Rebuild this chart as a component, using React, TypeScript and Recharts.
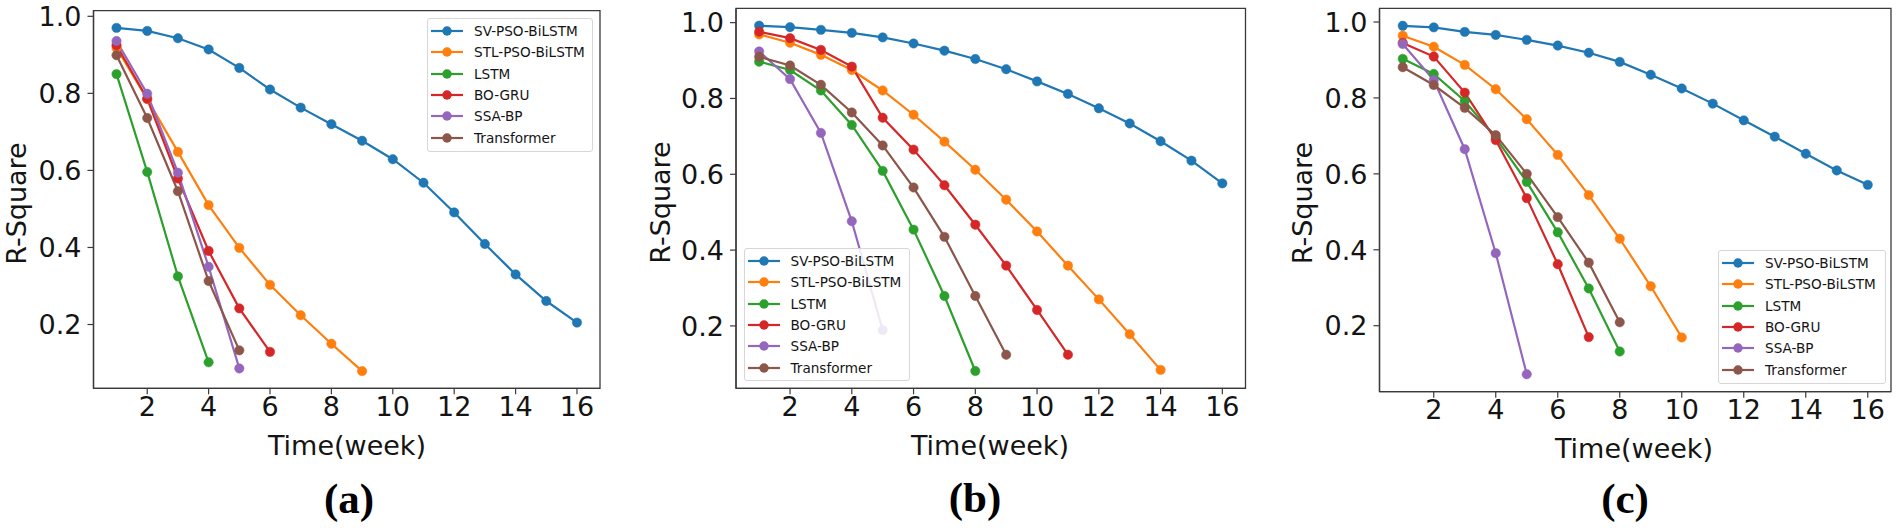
import React from 'react';
import { LineChart, Line, XAxis, YAxis, ReferenceArea } from 'recharts';

// ---------- data ----------
const weeks = [1, 2, 3, 4, 5, 6, 7, 8, 9, 10, 11, 12, 13, 14, 15, 16];
const xTicks = [2, 4, 6, 8, 10, 12, 14, 16];
const yTicks = [0.2, 0.4, 0.6, 0.8, 1.0];
const seriesNames = ['SV-PSO-BiLSTM', 'STL-PSO-BiLSTM', 'LSTM', 'BO-GRU', 'SSA-BP', 'Transformer'];
const seriesKeys = ['sv', 'stl', 'lstm', 'bo', 'ssa', 'trans'];
const seriesColors = ['#1f77b4', '#ff7f0e', '#2ca02c', '#d62728', '#9467bd', '#8c564b'];
const panelLabels = ['(a)', '(b)', '(c)'];

// panel (a)
const svA = [0.970, 0.962, 0.943, 0.914, 0.866, 0.810, 0.763, 0.720, 0.677, 0.629, 0.568, 0.491, 0.409, 0.330, 0.261, 0.205];
const stlA = [0.918, 0.785, 0.648, 0.510, 0.399, 0.303, 0.224, 0.150, 0.079];
const lstmA = [0.850, 0.596, 0.325, 0.102];
const boA = [0.925, 0.786, 0.579, 0.391, 0.242, 0.129];
const ssaA = [0.936, 0.799, 0.594, 0.350, 0.086];
const transA = [0.899, 0.736, 0.546, 0.313, 0.133];

// panel (b)
const svB = [0.992, 0.988, 0.981, 0.973, 0.961, 0.945, 0.926, 0.904, 0.877, 0.845, 0.812, 0.774, 0.734, 0.687, 0.636, 0.576];
const stlB = [0.969, 0.947, 0.915, 0.875, 0.821, 0.757, 0.686, 0.612, 0.533, 0.449, 0.359, 0.270, 0.178, 0.084];
const lstmB = [0.897, 0.875, 0.821, 0.730, 0.609, 0.454, 0.279, 0.081];
const boB = [0.976, 0.959, 0.928, 0.884, 0.749, 0.665, 0.571, 0.467, 0.359, 0.242, 0.124];
const ssaB = [0.924, 0.851, 0.709, 0.476, 0.189];
const transB = [0.910, 0.887, 0.836, 0.763, 0.676, 0.565, 0.435, 0.279, 0.124];

// panel (c)
const svC = [0.990, 0.986, 0.974, 0.966, 0.953, 0.938, 0.919, 0.895, 0.861, 0.825, 0.785, 0.741, 0.698, 0.653, 0.609, 0.571];
const stlC = [0.964, 0.935, 0.887, 0.823, 0.744, 0.650, 0.544, 0.429, 0.304, 0.169];
const lstmC = [0.903, 0.863, 0.792, 0.695, 0.579, 0.446, 0.298, 0.132];
const boC = [0.945, 0.909, 0.814, 0.689, 0.536, 0.362, 0.170];
const ssaC = [0.942, 0.847, 0.665, 0.391, 0.072];
const transC = [0.881, 0.834, 0.774, 0.702, 0.600, 0.486, 0.366, 0.209];

// ---------- helpers ----------
const FONT = '"DejaVu Sans", Verdana, sans-serif';
const TEXT = '#141414';
const SPINE = '#3a3a3a';
const TICK_LEN = 6;

function buildRows(series: number[][]) {
  return weeks.map((w, i) => {
    const row: Record<string, number | null> = { week: w };
    seriesKeys.forEach((k, j) => {
      row[k] = i < series[j].length ? series[j][i] : null;
    });
    return row;
  });
}

function yDomainOf(series: number[][]): [number, number] {
  const all = series.flat();
  const lo = Math.min(...all);
  const hi = Math.max(...all);
  const m = (hi - lo) * 0.05;
  return [lo - m, hi + m];
}

const xDomain: [number, number] = [weeks[0] - 0.75, weeks[weeks.length - 1] + 0.75];

const XTick = (props: any) => {
  const { x, y, payload } = props;
  return (
    <text x={x} y={y - TICK_LEN + 27.5} textAnchor="middle" fontFamily={FONT} fontSize={27} fill={TEXT}>
      {payload.value}
    </text>
  );
};

const YTick = (props: any) => {
  const { x, y, payload } = props;
  return (
    <text x={x - 6} y={y + 9.8} textAnchor="end" fontFamily={FONT} fontSize={27} fill={TEXT}>
      {Number(payload.value).toFixed(1)}
    </text>
  );
};

const LegendBox = ({ left, top, width, height }: { left: number; top: number; width: number; height: number }) => (
  <div
    style={{
      position: 'absolute',
      left,
      top,
      width,
      height,
      boxSizing: 'border-box',
      border: '1px solid #d6d6d6',
      borderRadius: 3,
      background: 'rgba(255,255,255,0.85)',
      fontFamily: FONT,
      fontSize: 13.6,
      color: TEXT,
    }}
  >
    {seriesNames.map((n, i) => (
      <div
        key={n}
        style={{ position: 'absolute', left: 0, top: 12 + i * 21.3 - 10, height: 20, width: '100%' }}
      >
        <svg width={40} height={20} style={{ position: 'absolute', left: 0, top: 0 }}>
          <line x1={3} x2={35} y1={10} y2={10} stroke={seriesColors[i]} strokeWidth={2.2} />
          <circle cx={19} cy={10} r={4.7} fill={seriesColors[i]} />
        </svg>
        <span style={{ position: 'absolute', left: 46, top: 0, lineHeight: '20px', whiteSpace: 'nowrap' }}>{n}</span>
      </div>
    ))}
  </div>
);

type PanelCfg = {
  chartX: number;
  chartW: number;
  plotLeft: number;
  plotRight: number;
  plotTop: number;
  plotBottom: number;
  series: number[][];
  legend: { left: number; top: number; width: number; height: number };
};

const H = 530;
const Y_AXIS_W = 50;
const X_AXIS_H = 60;

const Panel = ({ cfg }: { cfg: PanelCfg }) => {
  const rows = buildRows(cfg.series);
  const yDomain = yDomainOf(cfg.series);
  const margin = {
    top: cfg.plotTop,
    right: cfg.chartX + cfg.chartW - cfg.plotRight,
    bottom: H - cfg.plotBottom - X_AXIS_H,
    left: cfg.plotLeft - cfg.chartX - Y_AXIS_W,
  };
  return (
    <div style={{ position: 'absolute', left: cfg.chartX, top: 0, width: cfg.chartW, height: H }}>
      <LineChart width={cfg.chartW} height={H} data={rows} margin={margin}>
        <XAxis
          dataKey="week"
          type="number"
          domain={xDomain}
          ticks={xTicks}
          allowDataOverflow
          height={X_AXIS_H}
          tickSize={TICK_LEN}
          tickMargin={0}
          tickLine={{ stroke: SPINE, strokeWidth: 1.2 }}
          axisLine={{ stroke: SPINE, strokeWidth: 1.3 }}
          tick={XTick}
          interval={0}
        />
        <YAxis
          type="number"
          domain={yDomain}
          ticks={yTicks}
          allowDataOverflow
          width={Y_AXIS_W}
          tickSize={TICK_LEN}
          tickMargin={0}
          tickLine={{ stroke: SPINE, strokeWidth: 1.2 }}
          axisLine={{ stroke: SPINE, strokeWidth: 1.3 }}
          tick={YTick}
          interval={0}
        />
        <ReferenceArea
          x1={xDomain[0]}
          x2={xDomain[1]}
          y1={yDomain[0]}
          y2={yDomain[1]}
          fill="none"
          fillOpacity={0}
          stroke={SPINE}
          strokeWidth={1.3}
          ifOverflow="visible"
        />
        {seriesKeys.map((k, i) => (
          <Line
            key={k}
            type="linear"
            dataKey={k}
            name={seriesNames[i]}
            stroke={seriesColors[i]}
            strokeWidth={2.2}
            dot={{ r: 4.7, fill: seriesColors[i], stroke: seriesColors[i], strokeWidth: 0.5 }}
            activeDot={false}
            isAnimationActive={false}
            connectNulls={false}
          />
        ))}
      </LineChart>
      <LegendBox {...cfg.legend} />
    </div>
  );
};

const panels: PanelCfg[] = [
  {
    chartX: 0, chartW: 640, plotLeft: 93.5, plotRight: 600, plotTop: 10.7, plotBottom: 388.3,
    series: [svA, stlA, lstmA, boA, ssaA, transA],
    legend: { left: 427, top: 18, width: 166, height: 134 },
  },
  {
    chartX: 640, chartW: 630, plotLeft: 736, plotRight: 1245.5, plotTop: 8.4, plotBottom: 388.3,
    series: [svB, stlB, lstmB, boB, ssaB, transB],
    legend: { left: 103.5, top: 248, width: 166.5, height: 133 },
  },
  {
    chartX: 1270, chartW: 632, plotLeft: 1379.5, plotRight: 1891, plotTop: 8.4, plotBottom: 391.7,
    series: [svC, stlC, lstmC, boC, ssaC, transC],
    legend: { left: 448, top: 250, width: 167.7, height: 134 },
  },
];

// axis titles and panel captions (page coordinates)
const yTitlePos = [
  { x: 26, y: 203.5 },
  { x: 670, y: 202.5 },
  { x: 1312, y: 203 },
];
const xTitlePos = [
  { x: 347, y: 455 },
  { x: 990, y: 455 },
  { x: 1634, y: 458 },
];
const captionPos = [
  { x: 349, y: 513 },
  { x: 975, y: 512 },
  { x: 1625, y: 513 },
];

export default function App() {
  return (
    <div style={{ position: 'absolute', left: 0, top: 0, width: 1902, height: 530, background: '#fff', overflow: 'hidden' }}>
      {panels.map((p, i) => (
        <Panel key={i} cfg={p} />
      ))}
      <svg width={1902} height={530} style={{ position: 'absolute', left: 0, top: 0, pointerEvents: 'none' }}>
        {yTitlePos.map((p, i) => (
          <text key={'y' + i} transform={`translate(${p.x},${p.y}) rotate(-90)`} textAnchor="middle" fontFamily={FONT} fontSize={27} fill={TEXT}>
            R-Square
          </text>
        ))}
        {xTitlePos.map((p, i) => (
          <text key={'x' + i} x={p.x} y={p.y} textAnchor="middle" fontFamily={FONT} fontSize={27} fill={TEXT}>
            Time(week)
          </text>
        ))}
        {captionPos.map((p, i) => (
          <text key={'c' + i} x={p.x} y={p.y} textAnchor="middle" fontFamily='"Liberation Serif", "Times New Roman", serif' fontWeight="bold" fontSize={43} fill="#000">
            {panelLabels[i]}
          </text>
        ))}
      </svg>
    </div>
  );
}
